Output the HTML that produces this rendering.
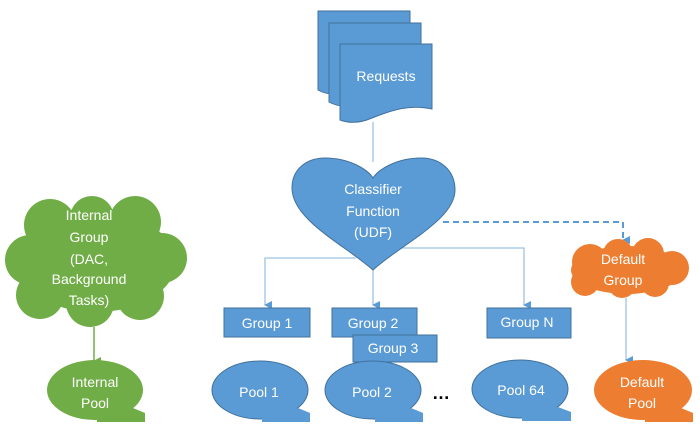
<!DOCTYPE html>
<html><head><meta charset="utf-8"><style>
html,body{margin:0;padding:0;background:#fff;}
svg{display:block;}
text{font-family:"Liberation Sans",sans-serif;font-size:14px;fill:#fff;text-anchor:middle;dominant-baseline:central;}
</style></head><body>
<svg width="700" height="433" viewBox="0 0 700 433" xmlns="http://www.w3.org/2000/svg">
<defs>
<marker id="ab" markerWidth="8" markerHeight="8" refX="4" refY="7" orient="auto" markerUnits="userSpaceOnUse"><path d="M0,0 L8,4 L0,8 z" fill="#5B9BD5" transform="rotate(90 4 4)"/></marker>
<marker id="ag" markerWidth="8" markerHeight="8" refX="4" refY="7" orient="auto" markerUnits="userSpaceOnUse"><path d="M0,0 L8,4 L0,8 z" fill="#70AD47" transform="rotate(90 4 4)"/></marker>
</defs>
<!-- documents -->
<g fill="#5B9BD5" stroke="#41719C" stroke-width="1">
<path d="M318,11 H410 V84 C390,78 370,84 350,92 C335,96 325,94 318,90 Z"/>
<path d="M329,23 H421 V96 C401,90 381,96 361,104 C346,108 336,106 329,102 Z"/>
<path d="M340,44 H432 V109 C410,104 392,110 372,118 C358,124 348,123 340,120 Z"/>
</g>
<text x="386" y="76">Requests</text>
<!-- connectors -->
<g stroke="#9DC3E6" stroke-width="1.3" fill="none">
<line x1="373" y1="122" x2="373" y2="162"/>
<path d="M395,248 H524 V305" marker-end="url(#ab)"/>
<path d="M356,258 H265 V305" marker-end="url(#ab)"/>
<path d="M373,270 V305" marker-end="url(#ab)"/>
<path d="M626,298 V360" marker-end="url(#ab)"/>
</g>
<path d="M443,222 H623 V240" stroke="#5B9BD5" stroke-width="2" stroke-dasharray="6,4" fill="none" marker-end="url(#ab)"/>
<!-- heart -->
<path d="M373,270 C345,245 292,220 292,188 C292,168 308,158 325,158 C350,158 368,170 373,178 C378,170 396,158 421,158 C440,158 455,170 455,190 C455,220 400,245 373,270 Z" fill="#5B9BD5" stroke="#41719C"/>
<text x="373" y="189">Classifier</text>
<text x="373" y="211">Function</text>
<text x="373" y="232">(UDF)</text>
<!-- green cloud -->
<g fill="#70AD47">
<ellipse cx="96" cy="262" rx="80" ry="50"/>
<circle cx="50" cy="225" r="26"/><circle cx="92" cy="218" r="22"/><circle cx="135" cy="222" r="26"/>
<circle cx="30" cy="260" r="25"/><circle cx="162" cy="258" r="25"/><circle cx="40" cy="295" r="24"/>
<circle cx="90" cy="303" r="24"/><circle cx="140" cy="296" r="24"/>
</g>
<text x="89" y="215">Internal</text>
<text x="89" y="237">Group</text>
<text x="89" y="259">(DAC,</text>
<text x="89" y="279">Background</text>
<text x="89" y="300">Tasks)</text>
<line x1="94" y1="327" x2="94" y2="361" stroke="#70AD47" stroke-width="1.5" marker-end="url(#ag)"/>
<!-- orange cloud -->
<g fill="#ED7D31">
<ellipse cx="627" cy="270" rx="56" ry="24"/>
<circle cx="590" cy="262" r="18"/><circle cx="618" cy="254" r="15"/><circle cx="648" cy="254" r="16"/>
<circle cx="672" cy="268" r="17"/><circle cx="585" cy="282" r="14"/><circle cx="622" cy="284" r="14"/><circle cx="655" cy="283" r="14"/>
</g>
<text x="623" y="259">Default</text>
<text x="623" y="280">Group</text>
<!-- groups -->
<g fill="#5B9BD5" stroke="#41719C">
<rect x="224" y="308" width="86" height="29"/>
<rect x="332" y="308" width="85" height="29"/>
<rect x="353" y="335" width="84" height="27"/>
<rect x="487" y="308" width="84" height="30"/>
</g>
<text x="267" y="323">Group 1</text>
<text x="373" y="323">Group 2</text>
<text x="393" y="348">Group 3</text>
<text x="527" y="322">Group N</text>
<!-- pools -->
<g fill="#5B9BD5" stroke="#41719C">
<ellipse cx="260" cy="390" rx="48" ry="29"/><polygon points="262,418 298,408 310,413 310,422 262,422" stroke="none"/>
<ellipse cx="373" cy="390" rx="48" ry="29"/><polygon points="375,418 411,408 423,413 423,422 375,422" stroke="none"/>
<ellipse cx="520" cy="389" rx="48" ry="29"/><polygon points="522,417 558,407 571,412 571,421 522,421" stroke="none"/>
</g>
<g fill="#ED7D31"><ellipse cx="643" cy="390" rx="49" ry="30"/><polygon points="645,418 681,408 693,413 693,422 645,422"/></g>
<g fill="#70AD47"><ellipse cx="95" cy="390" rx="48" ry="30"/><polygon points="97,418 133,408 145,413 145,422 97,422"/></g>
<text x="259" y="392">Pool 1</text>
<text x="372" y="392">Pool 2</text>
<text x="521" y="390">Pool 64</text>
<text x="642" y="382">Default</text>
<text x="642" y="403">Pool</text>
<text x="95" y="382">Internal</text>
<text x="95" y="403">Pool</text>
<text x="441" y="393" style="fill:#000;font-size:18px;font-weight:bold">…</text>
</svg>
</body></html>
